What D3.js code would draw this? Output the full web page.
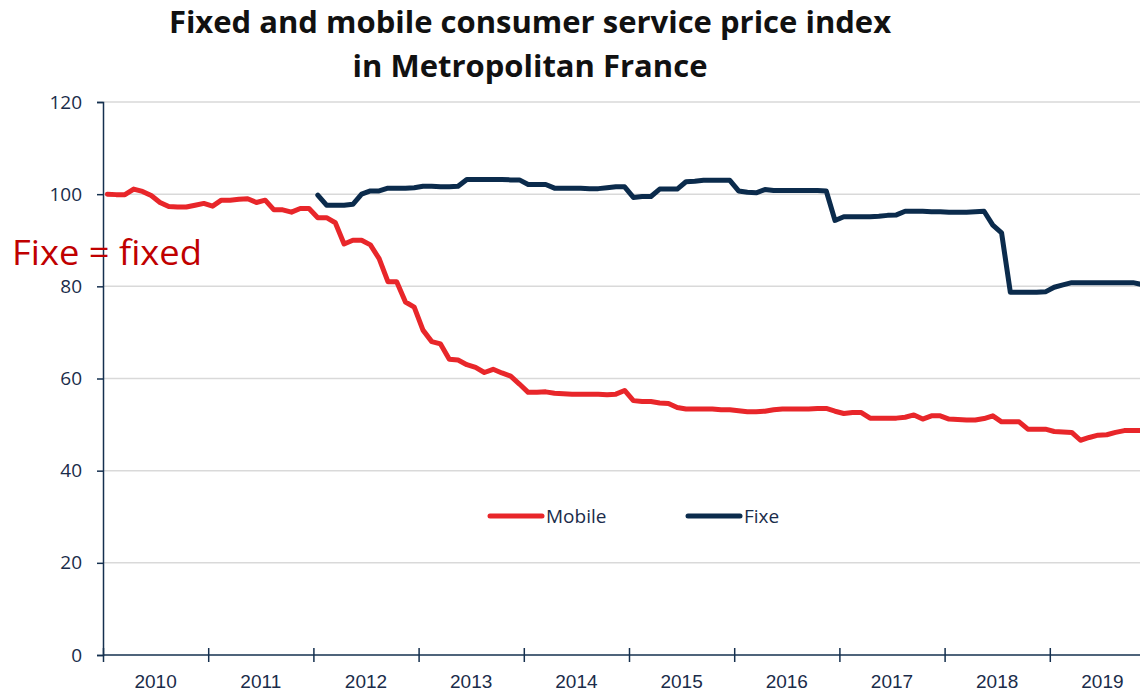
<!DOCTYPE html>
<html>
<head>
<meta charset="utf-8">
<script src="https://cdn.jsdelivr.net/npm/d3@7"></script>
<style>
  body { margin: 0; background: #fff; }
  svg { display: block; font-family: "Open Sans", sans-serif; }
</style>
</head>
<body>
<svg id="chart" width="1140" height="691"></svg>
<script>
// monthly index, first value = January 2010
var years = ["2010", "2011", "2012", "2013", "2014", "2015", "2016", "2017", "2018", "2019"];
var yTicks = [0, 20, 40, 60, 80, 100, 120];

var mobile = [
  100, 99.9, 99.9, 101.1, 100.6, 99.7, 98.2, 97.3, 97.2, 97.2, 97.6, 98.0,
  97.4, 98.7, 98.7, 98.9, 99.0, 98.2, 98.7, 96.6, 96.6, 96.1, 96.9, 96.9,
  94.9, 94.9, 93.8, 89.2, 90.0, 90.0, 89.0, 86.0, 81.0, 81.0, 76.6, 75.5,
  70.5, 68.0, 67.5, 64.2, 64.0, 63.0, 62.4, 61.3, 62.0, 61.2, 60.5, 58.8,
  57.0, 57.0, 57.1, 56.8, 56.7, 56.6, 56.6, 56.6, 56.6, 56.5, 56.6, 57.4,
  55.2, 55.0, 55.0, 54.7, 54.6, 53.7, 53.4, 53.4, 53.4, 53.4, 53.2, 53.2,
  53.0, 52.8, 52.8, 52.9, 53.2, 53.4, 53.4, 53.4, 53.4, 53.5, 53.5, 52.9,
  52.4, 52.6, 52.6, 51.4, 51.4, 51.4, 51.4, 51.6, 52.1, 51.2, 51.9, 51.9,
  51.2, 51.1, 51.0, 51.0, 51.3, 51.9, 50.6, 50.6, 50.6, 49.0, 49.0, 49.0,
  48.5, 48.4, 48.3, 46.6, 47.2, 47.7, 47.8, 48.3, 48.7, 48.7, 48.7
];

// fixed series starts in January 2012 (null before)
var fixe = [
  null, null, null, null, null, null, null, null, null, null, null, null,
  null, null, null, null, null, null, null, null, null, null, null, null,
  99.8, 97.6, 97.6, 97.6, 97.8, 100.0, 100.7, 100.7, 101.3, 101.3, 101.3, 101.4,
  101.7, 101.7, 101.6, 101.6, 101.7, 103.2, 103.2, 103.2, 103.2, 103.2, 103.1, 103.1,
  102.1, 102.1, 102.1, 101.3, 101.3, 101.3, 101.3, 101.2, 101.2, 101.4, 101.6, 101.6,
  99.3, 99.5, 99.5, 101.1, 101.1, 101.1, 102.7, 102.8, 103.0, 103.0, 103.0, 103.0,
  100.7, 100.4, 100.3, 101.0, 100.8, 100.8, 100.8, 100.8, 100.8, 100.8, 100.7, 94.3,
  95.1, 95.1, 95.1, 95.1, 95.2, 95.4, 95.5, 96.3, 96.3, 96.3, 96.2, 96.2,
  96.1, 96.1, 96.1, 96.2, 96.3, 93.3, 91.6, 78.7, 78.7, 78.7, 78.7, 78.8,
  79.8, 80.3, 80.8, 80.8, 80.8, 80.8, 80.8, 80.8, 80.8, 80.8, 80.4
];

var svg = d3.select("#chart");
var plotLeft = 103, plotRight = 1140, plotTop = 102, plotBottom = 655;
var monthsShown = 120;

var x = d3.scaleLinear().domain([0, monthsShown]).range([plotLeft, plotLeft + 105.2 * 10]);
var y = d3.scaleLinear().domain([0, 120]).range([plotBottom, plotTop]);

var axisColor = "#15304f";
var textColor = "#1a2c4a";

// title
svg.append("text").attr("x", 530).attr("y", 33).attr("text-anchor", "middle")
  .style("font-size", "31px").style("font-weight", "bold").style("fill", "#111")
  .text("Fixed and mobile consumer service price index");
svg.append("text").attr("x", 530).attr("y", 77).attr("text-anchor", "middle")
  .style("font-size", "31px").style("font-weight", "bold").style("fill", "#111")
  .text("in Metropolitan France");

// gridlines
svg.append("g").selectAll("line").data(yTicks.filter(function(d) { return d > 0; }))
  .enter().append("line")
  .attr("x1", plotLeft).attr("x2", plotRight)
  .attr("y1", function(d) { return y(d); }).attr("y2", function(d) { return y(d); })
  .attr("stroke", "#d9d9d9").attr("stroke-width", 1.5);

// y axis
var yAxis = d3.axisLeft(y).tickValues(yTicks).tickSize(6).tickPadding(15);
var gy = svg.append("g").attr("transform", "translate(" + plotLeft + ",0)").call(yAxis);
gy.select(".domain").attr("stroke", axisColor).attr("stroke-width", 1.5);
gy.selectAll(".tick line").attr("stroke", axisColor).attr("stroke-width", 1.5);
gy.selectAll("text").style("font-size", "19px").style("fill", textColor)
  .style("font-family", "'Open Sans', sans-serif");

// x axis : ticks every 12 months, labels centred in each year
var xAxis = d3.axisBottom(x).tickValues(d3.range(0, 121, 12)).tickSize(7).tickFormat("");
var gx = svg.append("g").attr("transform", "translate(0," + plotBottom + ")").call(xAxis);
gx.select(".domain").remove();
gx.append("line").attr("x1", plotLeft).attr("x2", plotRight).attr("stroke", axisColor).attr("stroke-width", 1.5);
gx.selectAll(".tick line").attr("y1", -7).attr("stroke", axisColor).attr("stroke-width", 1.5);
gx.selectAll(".year").data(years).enter().append("text")
  .attr("class", "year")
  .attr("x", function(d, i) { return x(i * 12 + 6); })
  .attr("y", 33)
  .attr("text-anchor", "middle")
  .style("font-size", "19px").style("fill", textColor)
  .text(function(d) { return d; });

// lines
var line = d3.line()
  .defined(function(d) { return d != null; })
  .x(function(d, i) { return x(i + 0.5); })
  .y(function(d) { return y(d); });

var plot = svg.append("g");
plot.append("path").datum(mobile).attr("d", line)
  .attr("fill", "none").attr("stroke", "#e8262a").attr("stroke-width", 5)
  .attr("stroke-linejoin", "round").attr("stroke-linecap", "round");
plot.append("path").datum(fixe).attr("d", line)
  .attr("fill", "none").attr("stroke", "#0b2b4c").attr("stroke-width", 5)
  .attr("stroke-linejoin", "round").attr("stroke-linecap", "round");

// legend
var legend = [{ name: "Mobile", color: "#e8262a", x: 488 }, { name: "Fixe", color: "#0b2b4c", x: 686 }];
var lg = svg.append("g").selectAll("g").data(legend).enter().append("g")
  .attr("transform", function(d) { return "translate(" + d.x + ",516)"; });
lg.append("line").attr("x1", 2).attr("x2", 54)
  .attr("stroke", function(d) { return d.color; }).attr("stroke-width", 5).attr("stroke-linecap", "round");
lg.append("text").attr("x", 58).attr("y", 7)
  .style("font-size", "19px").style("fill", textColor)
  .text(function(d) { return d.name; });

// annotation
svg.append("text").attr("x", 12).attr("y", 265)
  .attr("textLength", 190).attr("lengthAdjust", "spacingAndGlyphs")
  .style("font-size", "35px").style("fill", "#c00000")
  .text("Fixe = fixed");
</script>
</body>
</html>
